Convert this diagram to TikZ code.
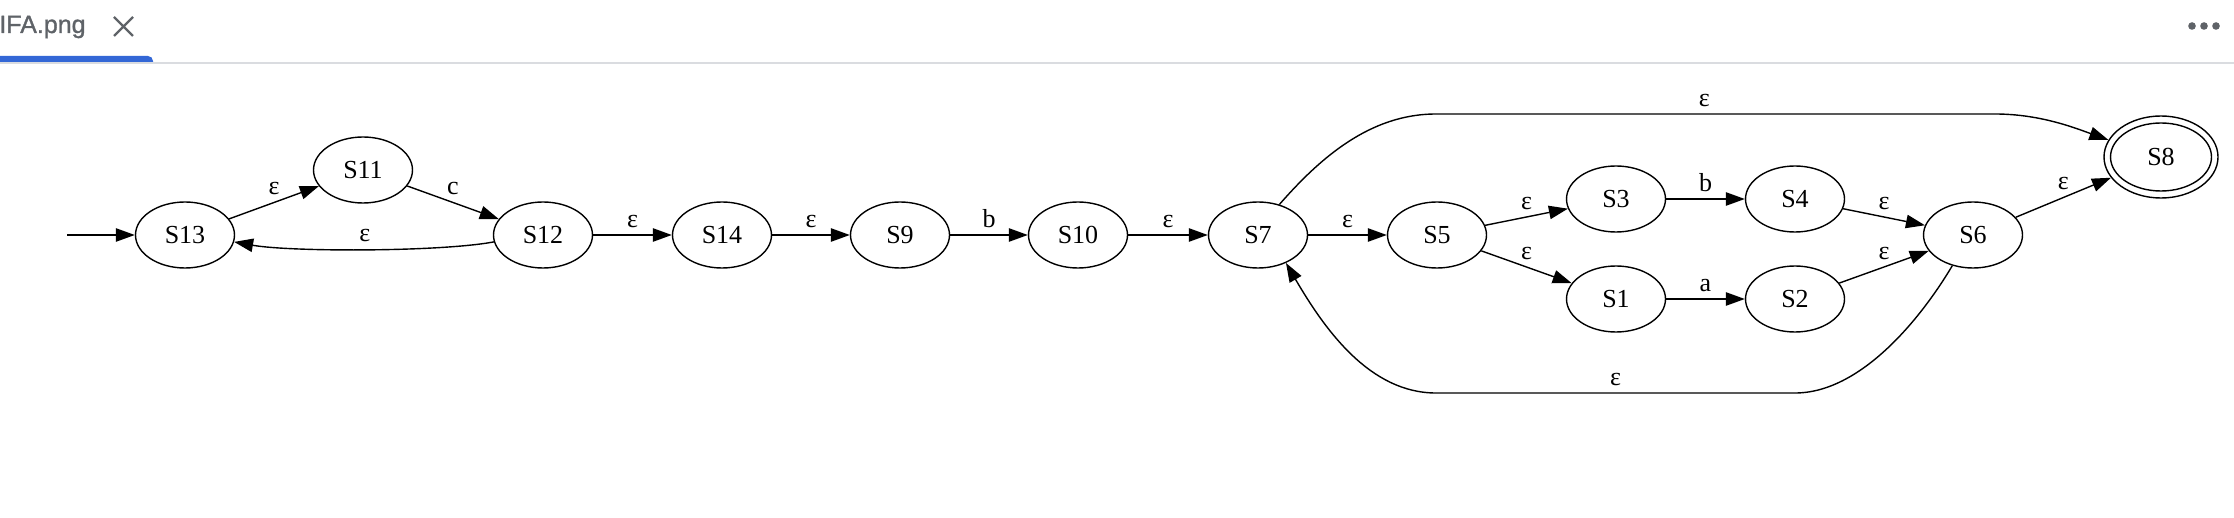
\documentclass[tikz,border=0pt]{standalone}
\usepackage{fontspec}
\setmainfont{Liberation Serif}
\newfontfamily\tabfont[FakeBold=1.2]{Liberation Sans}
\usepackage{xcolor}
\usetikzlibrary{arrows.meta,shapes.geometric}
\definecolor{tabblue}{RGB}{51,103,214}
\definecolor{tabgray}{RGB}{95,99,104}
\definecolor{tabline}{RGB}{218,220,224}

\begin{document}
\begin{tikzpicture}[x=0.5pt,y=-0.5pt,
  state/.style={draw, ellipse, line width=0.7pt, minimum width=49.5pt, minimum height=33pt, inner sep=0pt, font=\fontsize{13}{15}\selectfont},
  edge/.style={line width=0.7pt, -{Triangle[length=9.5pt,width=6.7pt]}},
  lbl/.style={above, inner sep=3.5pt, text depth=0pt, font=\fontsize{13}{15}\selectfont},
  tabtext/.style={inner sep=0pt, text=tabgray, font=\tabfont\fontsize{12.5}{14}\selectfont}]
  \useasboundingbox (0,0) rectangle (2234,518);
  % tab bar
  \fill[tabline] (0,62) rectangle (2234,64);
  \fill[tabblue] (-20,62) -- (-20,56) [rounded corners=2.5pt] -- (153,56) [sharp corners] -- (153,62) -- cycle;
  \node[tabtext, anchor=base west] (tabname) at (-1,33) {IFA.png};
  \draw[tabgray, line width=1.1pt] (114,17) -- (133,36) (133,17) -- (114,36);
  \foreach \dx in {2192,2204,2216}
    \fill[tabgray] (\dx,26) circle [radius=1.9pt];
  % states
  \node[state] (S13) at (185,235) {S13};
  \node[state] (S11) at (363,170) {S11};
  \node[state] (S12) at (543,235) {S12};
  \node[state] (S14) at (722,235) {S14};
  \node[state] (S9) at (900,235) {S9};
  \node[state] (S10) at (1078,235) {S10};
  \node[state] (S7) at (1258,235) {S7};
  \node[state] (S5) at (1437,235) {S5};
  \node[state] (S3) at (1616,199) {S3};
  \node[state] (S4) at (1795,199) {S4};
  \node[state] (S1) at (1616,299) {S1};
  \node[state] (S2) at (1795,299) {S2};
  \node[state] (S6) at (1973,235) {S6};
  \node[state, minimum width=57pt, minimum height=41pt] (S8) at (2161,157) {S8};
  \draw[line width=0.7pt] (S8.center) ellipse [x radius=25.25pt, y radius=17pt];
  \coordinate (start) at (67,235);
  % transitions
  \draw[edge] (start) -- (S13);
  \draw[edge] (S13) -- node[lbl] {ε} (S11);
  \draw[edge] (S11) -- node[lbl] {c} (S12);
  \draw[edge] (S12.188) .. controls (440,252) and (290,252) .. node[lbl] {ε} (S13.352);
  \draw[edge] (S12) -- node[lbl] {ε} (S14);
  \draw[edge] (S14) -- node[lbl] {ε} (S9);
  \draw[edge] (S9) -- node[lbl] {b} (S10);
  \draw[edge] (S10) -- node[lbl] {ε} (S7);
  \draw[edge] (S7) -- node[lbl] {ε} (S5);
  \draw[edge] (S5) -- node[lbl] {ε} (S3);
  \draw[edge] (S5) -- node[lbl] {ε} (S1);
  \draw[edge] (S3) -- node[lbl] {b} (S4);
  \draw[edge] (S1) -- node[lbl] {a} (S2);
  \draw[edge] (S4) -- node[lbl] {ε} (S6);
  \draw[edge] (S2) -- node[lbl] {ε} (S6);
  \draw[edge] (S6) -- node[lbl] {ε} (S8);
  \draw[edge] (S7.55) .. controls (1320,158) and (1370,114) .. (1436,114) -- node[lbl, pos=0.48] {ε} (1995,114) .. controls (2040,114) and (2075,128) .. (S8.162);
  \draw[edge] (S6.236) .. controls (1920,320) and (1860,393) .. (1795,393) -- node[lbl] {ε} (1436,393) .. controls (1370,393) and (1325,330) .. (S7.315);
\end{tikzpicture}
\end{document}
